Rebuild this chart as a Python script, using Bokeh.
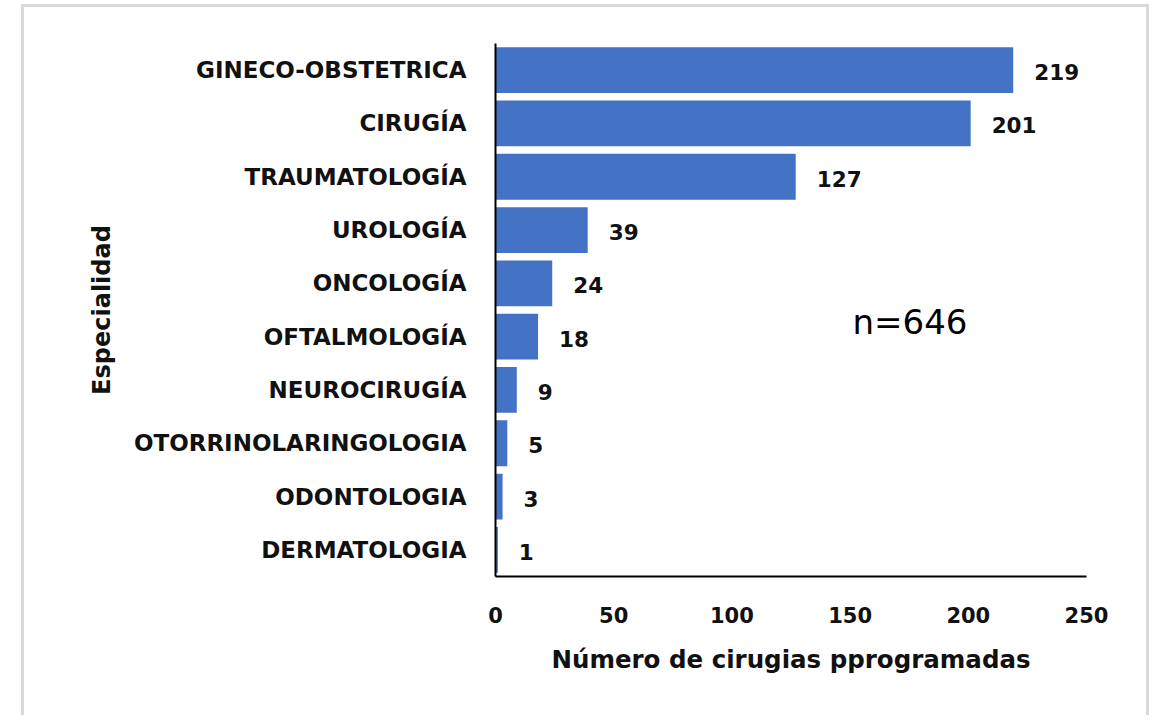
from bokeh.plotting import figure
from bokeh.models import Range1d, FactorRange, FixedTicker, ColumnDataSource, Label, InlineStyleSheet
from bokeh.core.properties import value
from bokeh.embed import file_html
from bokeh.resources import INLINE

categories = ["GINECO-OBSTETRICA", "CIRUGÍA", "TRAUMATOLOGÍA", "UROLOGÍA", "ONCOLOGÍA",
              "OFTALMOLOGÍA", "NEUROCIRUGÍA", "OTORRINOLARINGOLOGIA", "ODONTOLOGIA", "DERMATOLOGIA"]
counts = [219, 201, 127, 39, 24, 18, 9, 5, 3, 1]
x_ticks = [0, 50, 100, 150, 200, 250]
annotation_text = "n=646"

FONT = "DejaVu Sans"
BAR = "#4472C4"
TXT = "#111111"

src = ColumnDataSource(dict(cat=categories, n=counts, lab=[str(c) for c in counts]))

p = figure(width=1150, height=715, output_backend="svg", toolbar_location=None,
           y_range=FactorRange(factors=list(reversed(categories)), range_padding=0),
           x_range=Range1d(0, 250),
           min_border_left=495, min_border_top=43, min_border_right=64, min_border_bottom=139)

p.hbar(y="cat", right="n", left=0, height=0.86, source=src, fill_color=BAR, line_color=None)
p.text(x="n", y="cat", text="lab", source=src, x_offset=21, y_offset=2,
       text_font=value(FONT), text_font_style="bold", text_font_size="21.5px",
       text_baseline="middle", text_align="left", text_color=TXT)

p.add_layout(Label(x=151, y=4.77, text=annotation_text, text_font=FONT,
                   text_font_size="34px", text_color="#000000",
                   text_baseline="middle", text_align="left"))

# light grey card border of the slide around the chart
p.stylesheets = [InlineStyleSheet(css=(
    ":host::after { content: ''; position: absolute; left: 21px; top: 4px; right: 1px; "
    "bottom: 0px; border: 3px solid #d9d9d9; border-bottom: none; "
    "pointer-events: none; z-index: 100; }"))]

p.xgrid.visible = False
p.ygrid.visible = False
p.outline_line_color = None

p.xaxis.ticker = FixedTicker(ticks=x_ticks)
p.xaxis.axis_label = "Número de cirugias pprogramadas"
p.yaxis.axis_label = "Especialidad"
for ax in (p.xaxis, p.yaxis):
    ax.axis_line_color = "#000000"
    ax.axis_line_width = 2
    ax.major_tick_line_color = None
    ax.minor_tick_line_color = None
    ax.major_tick_out = 0
    ax.major_tick_in = 0
    ax.major_label_text_font = FONT
    ax.major_label_text_font_style = "bold"
    ax.major_label_text_color = TXT
    ax.axis_label_text_font = FONT
    ax.axis_label_text_font_style = "bold"
    ax.axis_label_text_color = TXT

p.xaxis.major_label_text_font_size = "21px"
p.xaxis.major_label_standoff = 30
p.xaxis.axis_label_text_font_size = "24.5px"
p.xaxis.axis_label_standoff = 19
p.yaxis.major_label_text_font_size = "23px"
p.yaxis.major_label_standoff = 29
p.yaxis.axis_label_text_font_size = "24px"
p.yaxis.axis_label_standoff = 15

open("out.html", "w").write(file_html(p, INLINE))
